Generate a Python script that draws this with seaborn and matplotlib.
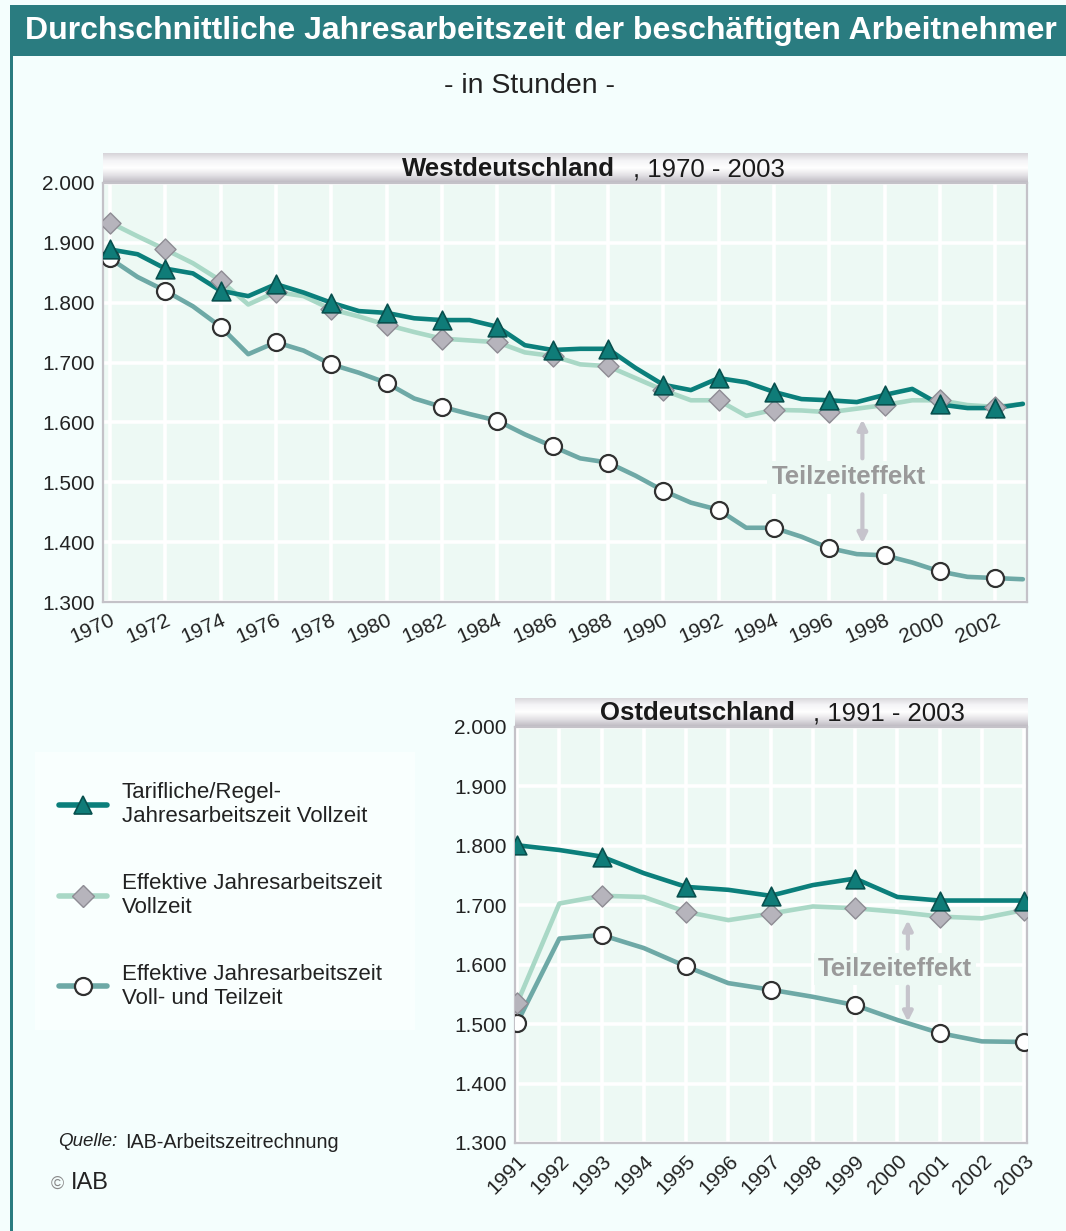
import numpy as np
import pandas as pd
import matplotlib
matplotlib.use("Agg")
import matplotlib.pyplot as plt
import seaborn as sns
from matplotlib.lines import Line2D
from matplotlib.patches import Rectangle
from matplotlib.colors import LinearSegmentedColormap
from matplotlib.ticker import FuncFormatter

# ---------------- data ----------------
years_west = list(range(1970, 2004))
tarif_west = [1889, 1881, 1857, 1849, 1820, 1811, 1831, 1817, 1800, 1786, 1783, 1774, 1771, 1771, 1760, 1729,
              1721, 1723, 1723, 1691, 1663, 1654, 1674, 1667, 1651, 1639, 1637, 1634, 1646, 1656, 1630, 1624, 1624, 1631]
effvoll_west = [1934, 1911, 1889, 1866, 1837, 1797, 1818, 1811, 1789, 1777, 1763, 1751, 1740, 1737, 1734, 1717,
                1711, 1697, 1694, 1674, 1654, 1637, 1637, 1611, 1621, 1620, 1617, 1623, 1629, 1637, 1637, 1629, 1626, 1631]
effall_west = [1874, 1843, 1820, 1794, 1760, 1714, 1734, 1720, 1697, 1683, 1666, 1640, 1626, 1614, 1603, 1580,
               1560, 1540, 1533, 1511, 1486, 1466, 1454, 1424, 1424, 1409, 1390, 1380, 1378, 1366, 1351, 1342, 1340, 1338]

years_east = list(range(1991, 2004))
tarif_east = [1801, 1793, 1782, 1754, 1731, 1726, 1716, 1734, 1745, 1714, 1708, 1708, 1708]
effvoll_east = [1535, 1703, 1716, 1714, 1689, 1675, 1686, 1698, 1695, 1689, 1681, 1678, 1692]
effall_east = [1502, 1644, 1650, 1628, 1597, 1569, 1558, 1546, 1532, 1507, 1485, 1471, 1470]

series_names = ["Tarifliche/Regel-\nJahresarbeitszeit Vollzeit",
                "Effektive Jahresarbeitszeit\nVollzeit",
                "Effektive Jahresarbeitszeit\nVoll- und Teilzeit"]
west_ticks = list(range(1970, 2003, 2))
east_ticks = list(range(1991, 2004))
y_ticks = [1300, 1400, 1500, 1600, 1700, 1800, 1900, 2000]

# ---------------- style ----------------
sns.set_theme(style="white")
plt.rcParams['font.family'] = ['Liberation Sans', 'DejaVu Sans']

W, H = 1066, 1231
BG = '#f4fefd'
PLOT_BG = '#edf9f4'
TEAL = '#2a7c80'
line_cols = {series_names[0]: '#0b7f7b', series_names[1]: '#a9d8c6', series_names[2]: '#6ea9a6'}
mk = {series_names[0]: dict(marker='^', s=180, color='#0f7c78', edgecolor='#08504e', linewidth=1.2),
      series_names[1]: dict(marker='D', s=115, color='#b6b4bc', edgecolor='#8e8c94', linewidth=1.0),
      series_names[2]: dict(marker='o', s=150, color='#ffffff', edgecolor='#303030', linewidth=1.6)}
# drawing order: lowest first
draw_order = [series_names[2], series_names[1], series_names[0]]

fig = plt.figure(figsize=(W / 100, H / 100), dpi=100)
fig.patch.set_facecolor(BG)


def rect(x0, y0, x1, y1):
    return [x0 / W, 1 - y1 / H, (x1 - x0) / W, (y1 - y0) / H]


def fxy(x, y):
    return (x / W, 1 - y / H)


# title bar and left border
fig.patches.append(Rectangle(fxy(10, 56), (W - 10) / W, 51 / H, transform=fig.transFigure,
                             facecolor=TEAL, edgecolor='none', zorder=0))
fig.patches.append(Rectangle(fxy(10, H), 3 / W, (H - 56) / H, transform=fig.transFigure,
                             facecolor=TEAL, edgecolor='none', zorder=0))
fig.text(*fxy(25, 31), "Durchschnittliche Jahresarbeitszeit der beschäftigten Arbeitnehmer",
         color='white', fontsize=23, fontweight='bold', ha='left', va='center')
fig.text(*fxy(530, 86), "- in Stunden -", color='#222222', fontsize=20.5, ha='center', va='center')

# legend background
fig.patches.append(Rectangle(fxy(35, 1030), 380 / W, 278 / H, transform=fig.transFigure,
                             facecolor='#f9fffe', edgecolor='none', zorder=0))

grad_cmap = LinearSegmentedColormap.from_list('hdr', ['#d6d4d9', '#f4f4f6', '#ffffff', '#e2e0e4', '#bcb8c0'])


def header(x0, y0, x1, y1, bold, normal, xsplit):
    hax = fig.add_axes(rect(x0, y0, x1, y1))
    hax.imshow(np.linspace(0, 1, 64).reshape(-1, 1), aspect='auto', cmap=grad_cmap, extent=[0, 1, 0, 1])
    hax.set_axis_off()
    ym = (y0 + y1) / 2 + 1
    fig.text(*fxy(xsplit, ym), bold, fontsize=18.5, fontweight='bold', ha='right', va='center', color='#1a1a1a')
    fig.text(*fxy(xsplit + 18, ym), ", " + normal, fontsize=18.5, ha='left', va='center', color='#1a1a1a')


def make_df(years, vals):
    rows = []
    for name, v in zip(series_names, vals):
        for y, val in zip(years, v):
            rows.append(dict(year=y, value=val, series=name))
    return pd.DataFrame(rows)


def draw_panel(ax, df, marker_years, xticks, xlim, rot):
    ax.set_facecolor(PLOT_BG)
    for i, name in enumerate(draw_order):
        sub = df[df.series == name]
        sns.lineplot(data=sub, x='year', y='value', color=line_cols[name], linewidth=3.3,
                     ax=ax, legend=False, zorder=3 + i * 0.1)
    for i, name in enumerate(draw_order):
        sub = df[(df.series == name) & (df.year.isin(marker_years))]
        sns.scatterplot(data=sub, x='year', y='value', ax=ax, legend=False, zorder=5 + i, **mk[name])
    ax.set_xlim(*xlim)
    ax.set_ylim(1300, 2000)
    ax.set_xticks(xticks)
    ax.set_yticks(y_ticks)
    ax.yaxis.set_major_formatter(FuncFormatter(lambda v, p: f"{int(v):,}".replace(',', '.')))
    ax.grid(True, color='white', linewidth=2.6, zorder=1)
    ax.set_axisbelow(True)
    ax.set_xlabel('')
    ax.set_ylabel('')
    ax.tick_params(axis='both', length=0, labelsize=15, colors='#222222', pad=6)
    for lab in ax.get_xticklabels():
        lab.set_rotation(rot)
        lab.set_ha('right')
        lab.set_rotation_mode('anchor')
    for s in ax.spines.values():
        s.set_color('#c4c2c8')
        s.set_linewidth(1.6)


def teilzeit(ax, xt, yt, xa, up, down):
    ax.text(xt, yt, 'Teilzeiteffekt', ha='center', va='center', color='#9a9a9a', fontsize=18.5,
            fontweight='bold', zorder=4, bbox=dict(facecolor=PLOT_BG, edgecolor='none', pad=3))
    ax.annotate('', xy=(xa, up[1]), xytext=(xa, up[0]), zorder=4,
                arrowprops=dict(arrowstyle='-|>', color='#c6c4cc', lw=3, mutation_scale=14, shrinkA=0, shrinkB=0))
    ax.annotate('', xy=(xa, down[1]), xytext=(xa, down[0]), zorder=4,
                arrowprops=dict(arrowstyle='-|>', color='#c6c4cc', lw=3, mutation_scale=14, shrinkA=0, shrinkB=0))


# West
header(103, 153, 1028, 183, "Westdeutschland", "1970 - 2003", 615)
axw = fig.add_axes(rect(103, 183, 1027, 602))
dfw = make_df(years_west, [tarif_west, effvoll_west, effall_west])
draw_panel(axw, dfw, west_ticks, west_ticks, (1969.75, 2003.15), 24)
teilzeit(axw, 1996.7, 1508, 1997.2, (1540, 1605), (1480, 1398))

# East
header(515, 698, 1028, 727, "Ostdeutschland", "1991 - 2003", 795)
axe = fig.add_axes(rect(515, 727, 1027, 1143))
dfe = make_df(years_east, [tarif_east, effvoll_east, effall_east])
draw_panel(axe, dfe, list(range(1991, 2004, 2)), east_ticks, (1990.95, 2003.07), 45)
teilzeit(axe, 1999.95, 1593, 2000.25, (1627, 1675), (1563, 1504))

# Legend
handles = []
for name in series_names:
    m = mk[name]
    handles.append(Line2D([0], [0], color=line_cols[name], lw=4, marker=m['marker'],
                          markersize=np.sqrt(m['s']), markerfacecolor=m['color'],
                          markeredgecolor=m['edgecolor'], markeredgewidth=m['linewidth']))
fig.legend(handles, series_names, loc='upper left', bbox_to_anchor=fxy(48, 771), frameon=False,
           fontsize=16, handlelength=2.15, handletextpad=0.68, labelspacing=2.05, borderpad=0,
           labelcolor='#222222')

# Source
fig.text(*fxy(58, 1142), "Quelle:", fontsize=13.5, style='italic', ha='left', va='center', color='#222222')
fig.text(*fxy(125, 1142), "IAB-Arbeitszeitrechnung", fontsize=14.2, ha='left', va='center', color='#222222')
fig.text(*fxy(51, 1184), "©", fontsize=13, ha='left', va='center', color='#888888')
fig.text(*fxy(71, 1183), "IAB", fontsize=17, ha='left', va='center', color='#222222')

fig.savefig('out.png', dpi=100, facecolor=BG)
